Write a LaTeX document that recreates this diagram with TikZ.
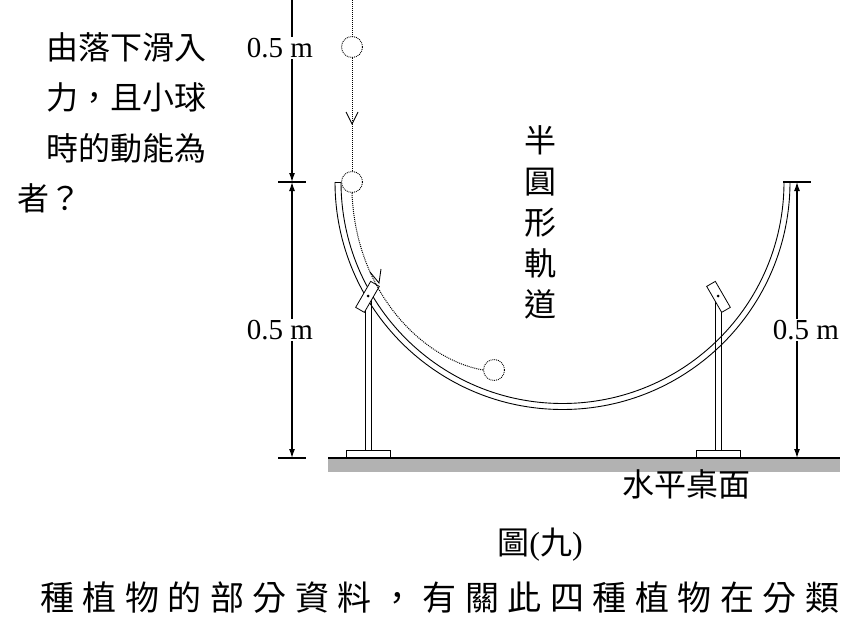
\documentclass[tikz,border=0pt]{standalone}
\usepackage{fontspec}
\setmainfont{Liberation Serif}
\newfontfamily\cjk{Noto Sans CJK TC}
\newfontfamily\cjkwide[LetterSpace=25]{Noto Sans CJK TC}
\usetikzlibrary{arrows.meta,positioning,calc}

\tikzset{
  dimline/.style={line width=1.2pt, {Latex[length=9pt,width=6pt]}-{Latex[length=9pt,width=6pt]}},
  tick/.style={line width=1.2pt},
  ball/.style={circle, draw, densely dotted, line width=0.9pt, minimum size=21pt, inner sep=0pt},
  path dot/.style={densely dotted, line width=1pt},
  post/.style={line width=0.8pt},
  label m/.style={font=\fontsize{29}{29}\selectfont},
  zh/.style={font=\cjk\fontsize{32}{32}\selectfont, inner sep=0pt}
}

\begin{document}
\begin{tikzpicture}[x=1pt, y=-1pt]
	\useasboundingbox (0,0) rectangle (851,626);
	
	% table top
	\fill [gray!60] (328,458) rectangle (840,472);
	\draw [line width=1.6pt] (328,458) -- (840,458);
	
	% track
	\draw [line width=0.9pt] (335,182) arc (180:0:227.5);
	\draw [line width=0.9pt] (341,182) arc (180:0:221.5);
	\draw [line width=0.9pt] (335,182) -- (341,182);
	\draw [line width=0.9pt] (784,182) -- (790,182);
	
	% supports
	\foreach \x/\a in {368/1, 718/-1} {
		\draw [post] (\x-3,300) -- (\x-3,450);
		\draw [post] (\x+3,300) -- (\x+3,450);
		\draw [post, fill=white] (\x-22,450) rectangle (\x+22,457);
		\draw [post, fill=white, rotate around={\a*(-30):(\x,296)}] (\x-5,282) rectangle (\x+5,312);
		\fill (\x,296) circle (1.5pt);
	}
	
	% dimensions
	\coordinate (topL) at (292,0);
	\coordinate (midL) at (292,182);
	\coordinate (botL) at (292,458);
	\coordinate (midR) at (797,182);
	\coordinate (botR) at (797,458);
	\draw [line width=1.2pt, -{Latex[length=9pt,width=6pt]}] (topL) -- (midL);
	\draw [dimline] (midL) -- (botL);
	\draw [dimline] (midR) -- (botR);
	\foreach \c in {midL, botL, midR, botR}
	\draw [tick] ($(\c)+(-14,0)$) -- ($(\c)+(14,0)$);
	\node [label m, fill=white, inner sep=1pt] at (280,48) {0.5 m};
	\node [label m, fill=white, inner sep=1pt] at (280,330) {0.5 m};
	\node [label m, fill=white, inner sep=1pt] at (806,330) {0.5 m};
	
	% ball path
	\node [ball] (b1) at (352,47) {};
	\node [ball] (b2) at (352,182) {};
	\node [ball] (b3) at (494,370) {};
	\draw [path dot] (352,0) -- (b1);
	\draw [path dot] (b1) -- (b2);
	\draw [line width=0.9pt] (346,112) -- (352,124) -- (358,112);
	\draw [path dot] (b2.south) .. controls (356,295) and (425,360) .. (b3.west);
	\draw [line width=0.9pt] (370,272) -- (379,283) -- (381,269);
	
	% labels
	\node [zh, align=center] at (540,222) {半\\[9pt]圓\\[9pt]形\\[9pt]軌\\[9pt]道};
	\node [zh] at (686,484) {水平桌面};
	\node [zh] (fig) at (540,545) {圖\textrm{(}九\textrm{)}};
	
	% surrounding text
	\node [zh, anchor=east] at (207,47) {由落下滑入};
	\node [zh, anchor=east] at (207,97) {力，且小球};
	\node [zh, anchor=east] at (207,148) {時的動能為};
	\node [zh, anchor=east] at (82,198) {者？};
	\node [zh, font=\cjkwide\fontsize{34}{34}\selectfont, anchor=west] at (40,598) {種植物的部分資料，有關此四種植物在分類};
\end{tikzpicture}
\end{document}
